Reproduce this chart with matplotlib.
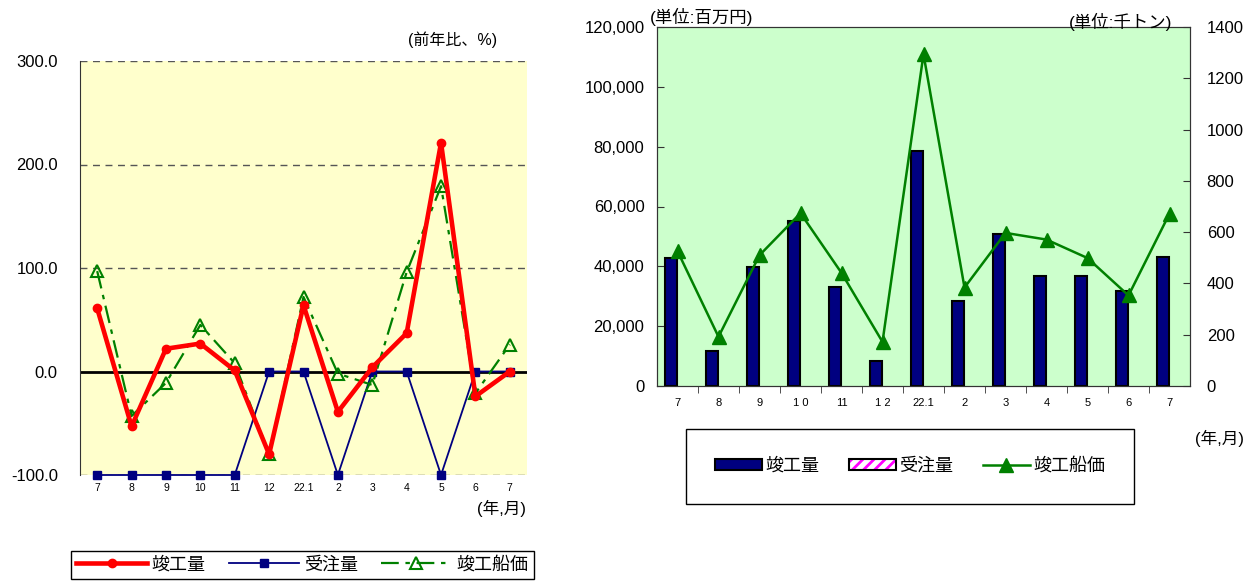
import matplotlib
matplotlib.use("Agg")
import matplotlib.pyplot as plt
from matplotlib.lines import Line2D
from matplotlib.patches import Patch
from matplotlib.ticker import FuncFormatter, MultipleLocator, FixedLocator

plt.rcParams['font.family'] = ['Liberation Sans', 'Noto Sans CJK JP', 'DejaVu Sans']
plt.rcParams['hatch.linewidth'] = 2.0

# left chart: year-on-year change (%)
months_left = ['7', '8', '9', '10', '11', '12', '22.1', '2', '3', '4', '5', '6', '7']
completed_pct = [61, -53, 22, 27, 1, -80, 64, -39, 4, 37, 221, -24, 0]
orders_pct = [-100, -100, -100, -100, -100, 0, 0, -100, 0, 0, -100, 0, 0]
price_pct = [97, -43, -11, 45, 8, -80, 72, -2, -13, 96, 179, -21, 26]

# right chart: amounts
months_right = ['7', '8', '9', '1 0', '11', '1 2', '22.1', '2', '3', '4', '5', '6', '7']
completed_amt = [42800, 11700, 39800, 55300, 33100, 8300, 78700, 28400, 50900, 36900, 36700, 31800, 43100]
price_kton = [526, 192, 510, 674, 441, 172, 1294, 384, 597, 571, 499, 353, 672]

fig = plt.figure(figsize=(12.48, 5.82), dpi=100)
W, H = 1248, 582

# ---------- left chart ----------
ax1 = fig.add_axes([80 / W, 1 - 475 / H, 447 / W, 414 / H])
ax1.set_facecolor('#FFFFCC')
x = list(range(len(months_left)))
ax1.set_xlim(-0.5, len(x) - 0.5)
ax1.set_ylim(-100, 300)
for yv in [-100, 100, 200, 300]:
    ax1.axhline(yv, color='#555555', lw=1.0, ls=(0, (5, 4)), zorder=1)
ax1.axhline(0, color='black', lw=2.0, zorder=2)
ax1.plot(x, orders_pct, color='#000080', lw=1.3, marker='s', ms=5.5, zorder=3, clip_on=False)
ax1.plot(x, price_pct, color='#008000', lw=1.6, ls=(0, (8, 3, 2, 3)), marker='^', ms=9,
         mfc='none', mec='#008000', mew=1.5, zorder=4)
ax1.plot(x, completed_pct, color='#FF0000', lw=3.3, marker='o', ms=6, zorder=5)
ax1.set_xticks(x)
ax1.set_xticklabels(months_left, fontsize=7.5)
ax1.set_yticks([-100, 0, 100, 200, 300])
ax1.yaxis.set_major_formatter(FuncFormatter(lambda v, p: f'{v:.1f}'))
ax1.tick_params(axis='y', length=0, labelsize=12, pad=16)
ax1.tick_params(axis='x', length=0, pad=6)
for s in ['top', 'right', 'bottom']:
    ax1.spines[s].set_visible(False)
ax1.spines['left'].set_color('#333333')
fig.text(497 / W, 1 - 40 / H, '(前年比、%)', ha='right', va='center', fontsize=11.5)
fig.text(526 / W, 1 - 508 / H, '(年,月)', ha='right', va='center', fontsize=12)

h1 = [Line2D([], [], color='#FF0000', lw=3.3, marker='o', ms=6),
      Line2D([], [], color='#000080', lw=1.3, marker='s', ms=5.5),
      Line2D([], [], color='#008000', lw=1.6, ls=(0, (8, 3, 2, 3)), marker='^', ms=9,
             mfc='none', mec='#008000', mew=1.5)]
fig.legend(h1, ['竣工量', '受注量', '竣工船価'], loc='upper left',
           bbox_to_anchor=(71 / W, 1 - 551 / H), ncol=3, fontsize=13,
           frameon=True, fancybox=False, edgecolor='black', framealpha=1,
           handlelength=3.9, columnspacing=1.3, handletextpad=0.25, borderpad=0.3,
           borderaxespad=0)

# ---------- right chart ----------
ax2 = fig.add_axes([657 / W, 1 - 386 / H, 533 / W, 359 / H])
ax2.set_facecolor('#CCFFCC')
xr = list(range(len(months_right)))
ax2.bar([i - 0.155 for i in xr], completed_amt, width=0.3, color='#000080',
        edgecolor='black', lw=1.5, zorder=2)
ax2.set_xlim(-0.5, len(xr) - 0.5)
ax2.set_ylim(0, 120000)
ax2.yaxis.set_major_locator(MultipleLocator(20000))
ax2.yaxis.set_major_formatter(FuncFormatter(lambda v, p: f'{int(v):,}'))
ax2.set_xticks(xr)
ax2.set_xticklabels(months_right, fontsize=8)
ax2.xaxis.set_minor_locator(FixedLocator([i + 0.5 for i in xr[:-1]]))
ax2.tick_params(axis='x', which='major', length=0, pad=9)
ax2.tick_params(axis='x', which='minor', length=5, direction='out', color='#333333')
ax2.tick_params(axis='y', direction='in', length=5, labelsize=12, pad=9, color='#333333')
for s in ax2.spines.values():
    s.set_color('#333333')

ax3 = ax2.twinx()
ax3.plot(xr, price_kton, color='#008000', lw=1.8, marker='^', ms=10, zorder=3)
ax3.set_ylim(0, 1400)
ax3.yaxis.set_major_locator(MultipleLocator(200))
ax3.tick_params(axis='y', direction='in', length=5, labelsize=12, pad=12, color='#333333')
for s in ax3.spines.values():
    s.set_color('#333333')

fig.text(650 / W, 1 - 17 / H, '(単位:百万円)', ha='left', va='center', fontsize=12.5)
fig.text(1172 / W, 1 - 22 / H, '(単位:千トン)', ha='right', va='center', fontsize=12.5)
fig.text(1244 / W, 1 - 438 / H, '(年,月)', ha='right', va='center', fontsize=12)

hatch_handle = (Patch(facecolor='white', edgecolor='#FF00FF', lw=0, hatch='///'),
                Patch(facecolor='none', edgecolor='black', lw=1.5))
h2 = [Patch(facecolor='#000080', edgecolor='black', lw=1.5),
      hatch_handle,
      Line2D([], [], color='#008000', lw=1.8, marker='^', ms=10)]
fig.legend(h2, ['竣工量', '受注量', '竣工船価'], loc='center',
           bbox_to_anchor=(686 / W, 1 - 508 / H, 448 / W, 83 / H), mode='expand',
           ncol=3, fontsize=13, frameon=True, fancybox=False, edgecolor='black',
           framealpha=1, handlelength=2.6, handleheight=0.6, handletextpad=0.2,
           borderpad=1.6, borderaxespad=0)

fig.savefig('out.png', dpi=100)
